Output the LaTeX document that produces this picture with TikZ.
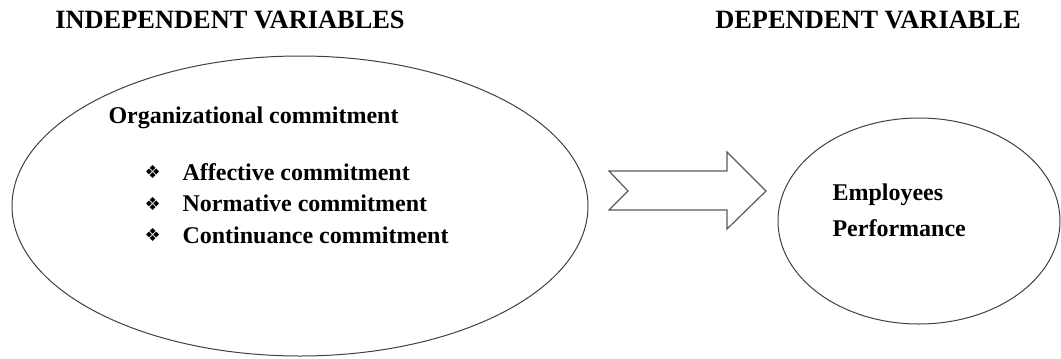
\documentclass[tikz,border=0pt]{standalone}
\usepackage{fontspec}
\setmainfont{Liberation Serif}
\newfontfamily\symfont{DejaVu Sans}
\usetikzlibrary{positioning,shapes.geometric}

\begin{document}
\begin{tikzpicture}[x=0.75pt,y=-0.75pt,thick,
    head text/.style={font=\bfseries\fontsize{19.8}{23}\selectfont,inner sep=0pt},
    item text/.style={font=\bfseries\fontsize{18}{21}\selectfont,inner sep=0pt,anchor=west},
    bullet/.style={font=\symfont\fontsize{13.5}{15}\selectfont,inner sep=0pt},
    bubble/.style={ellipse,draw=black!75,line width=0.75pt,inner sep=0pt},
    fat arrow/.style={draw=black!65,line width=0.9pt,line join=miter}]
            \useasboundingbox (0,0) rectangle (1061,358);

            \node[head text] (indep) at (230,20) {INDEPENDENT VARIABLES};
            \node[head text] (dep) at (868,20) {DEPENDENT VARIABLE};

            \node[bubble,minimum width=432pt,minimum height=225pt] (org) at (300,206) {};
            \node[bubble,minimum width=211.5pt,minimum height=154.5pt] (perf) at (919,221) {};

            \node[item text] (title) at (108,118) {Organizational commitment};
            \node[item text] (aff) at (182,172) {Affective commitment};
            \node[item text] (norm) at (182,203.5) {Normative commitment};
            \node[item text] (cont) at (182,235) {Continuance commitment};
            \node[bullet] (b1) [left=15.5pt of aff] {❖};
            \node[bullet] (b2) [left=15.5pt of norm] {❖};
            \node[bullet] (b3) [left=15.5pt of cont] {❖};

            \node[item text] (emp) at (832,195) {Employees};
            \node[item text] (perftext) at (832,228) {Performance};

            % block arrow between the two bubbles
            \coordinate (tail) at (609,171);
            \draw[fat arrow] (tail) -- (727,171) -- (727,152) -- (766,191) -- (727,229)
                -- (727,210) -- (609,210) -- (628,191) -- cycle;
        \end{tikzpicture}
\end{document}
